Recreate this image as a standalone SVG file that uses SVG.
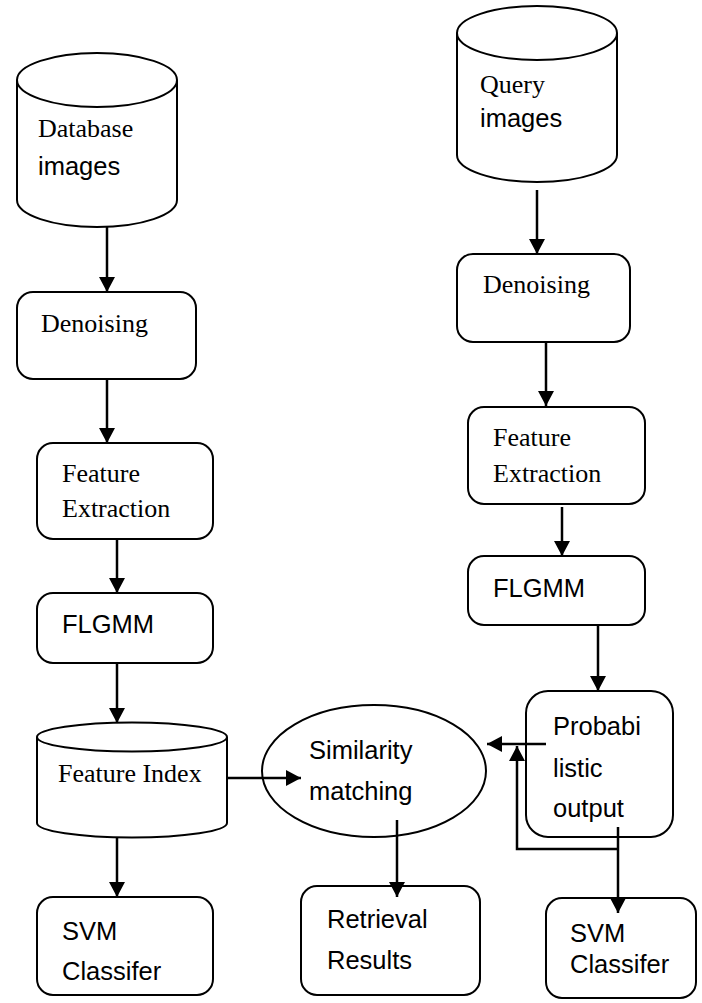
<svg xmlns="http://www.w3.org/2000/svg" width="702" height="1003" viewBox="0 0 702 1003">
<style>
.s{fill:#fff;stroke:#000;stroke-width:2}
.c{fill:none;stroke:#000;stroke-width:2}
.ln{fill:none;stroke:#000;stroke-width:2.5}
.tr{font-family:"Liberation Serif","Times New Roman",serif;font-size:26px;fill:#000}
.sa{font-family:"Liberation Sans",Arial,sans-serif;font-size:25.5px;fill:#000}
</style>
<defs>
<marker id="ah" markerUnits="userSpaceOnUse" markerWidth="16" markerHeight="16" refX="15" refY="8" orient="auto">
<path d="M0,0 L15,8 L0,16 z" fill="#000"/>
</marker>
</defs>
<rect width="702" height="1003" fill="#fff"/>

<g id="db-images">
<path class="s" d="M17,80 A80,27 0 0 1 177,80 V200 A80,27 0 0 1 17,200 Z"/>
<path class="c" d="M17,80 A80,27 0 0 0 177,80"/>
<text class="tr" x="38" y="137">Database</text>
<text class="sa" x="38" y="175">images</text>
</g>

<g id="query-images">
<path class="s" d="M457,33 A80,27 0 0 1 617,33 V155 A80,27 0 0 1 457,155 Z"/>
<path class="c" d="M457,33 A80,27 0 0 0 617,33"/>
<text class="tr" x="480" y="93" font-size="25">Query</text>
<text class="sa" x="480" y="127">images</text>
</g>

<g id="denoise-left">
<rect class="s" x="17" y="292" width="179" height="87" rx="16"/>
<text class="tr" x="41" y="332">Denoising</text>
</g>

<g id="denoise-right">
<rect class="s" x="457" y="254" width="173" height="88" rx="16"/>
<text class="tr" x="483" y="293">Denoising</text>
</g>

<g id="fe-left">
<rect class="s" x="37" y="443" width="176" height="96" rx="16"/>
<text class="tr" x="62" y="482">Feature</text>
<text class="tr" x="62" y="517">Extraction</text>
</g>

<g id="fe-right">
<rect class="s" x="468" y="407" width="177" height="97" rx="16"/>
<text class="tr" x="493" y="446">Feature</text>
<text class="tr" x="493" y="482">Extraction</text>
</g>

<g id="flgmm-left">
<rect class="s" x="37" y="593" width="176" height="70" rx="16"/>
<text class="sa" x="62" y="633">FLGMM</text>
</g>

<g id="flgmm-right">
<rect class="s" x="468" y="556" width="177" height="69" rx="16"/>
<text class="sa" x="493" y="597">FLGMM</text>
</g>

<g id="feature-index">
<path class="s" d="M37,737 A95,14.5 0 0 1 227,737 V823 A95,14.5 0 0 1 37,823 Z"/>
<path class="c" d="M37,737 A95,14.5 0 0 0 227,737"/>
<text class="tr" x="58" y="782">Feature Index</text>
</g>

<g id="similarity">
<ellipse class="s" cx="374" cy="771" rx="112" ry="66"/>
<text class="sa" x="309" y="759">Similarity</text>
<text class="sa" x="309" y="800">matching</text>
</g>

<g id="prob-output">
<rect class="s" x="526" y="691" width="147" height="146" rx="22"/>
<text class="sa" x="553" y="735">Probabi</text>
<text class="sa" x="553" y="777">listic</text>
<text class="sa" x="553" y="817">output</text>
</g>

<g id="svm-left">
<rect class="s" x="37" y="897" width="176" height="98" rx="16"/>
<text class="sa" x="62" y="940">SVM</text>
<text class="sa" x="62" y="980">Classifer</text>
</g>

<g id="retrieval">
<rect class="s" x="301" y="886" width="179" height="109" rx="16"/>
<text class="sa" x="327" y="928">Retrieval</text>
<text class="sa" x="327" y="969">Results</text>
</g>

<g id="svm-right">
<rect class="s" x="546" y="898" width="150" height="100" rx="16"/>
<text class="sa" x="570" y="942">SVM</text>
<text class="sa" x="570" y="973">Classifer</text>
</g>

<g id="connectors">
<path class="ln" d="M107,227 V292" marker-end="url(#ah)"/>
<path class="ln" d="M537,190 V254" marker-end="url(#ah)"/>
<path class="ln" d="M107,379 V443" marker-end="url(#ah)"/>
<path class="ln" d="M546,342 V406" marker-end="url(#ah)"/>
<path class="ln" d="M117,539 V593" marker-end="url(#ah)"/>
<path class="ln" d="M562,507 V556" marker-end="url(#ah)"/>
<path class="ln" d="M117,663 V723" marker-end="url(#ah)"/>
<path class="ln" d="M598,625 V691" marker-end="url(#ah)"/>
<path class="ln" d="M117,837 V897" marker-end="url(#ah)"/>
<path class="ln" d="M227,778 H301" marker-end="url(#ah)"/>
<path class="ln" d="M546,744 H487" marker-end="url(#ah)"/>
<path class="ln" d="M618,849 H517 V746" marker-end="url(#ah)"/>
<path class="ln" d="M618,827 V913" marker-end="url(#ah)"/>
<path class="ln" d="M397,820 V897" marker-end="url(#ah)"/>
</g>
</svg>
